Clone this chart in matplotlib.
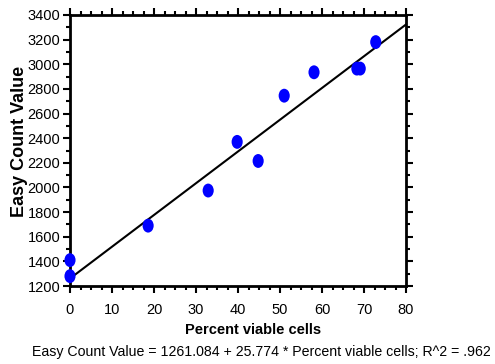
import matplotlib
matplotlib.use("Agg")
import matplotlib.pyplot as plt
import numpy as np
from matplotlib.path import Path
from matplotlib.ticker import MultipleLocator

plt.rcParams['font.family'] = ['Liberation Sans', 'DejaVu Sans']

# data
pct_viable = [0, 0, 18.6, 32.9, 39.8, 44.8, 51.0, 58.1, 68.3, 69.1, 72.8]
easy_count = [1410, 1280, 1690, 1975, 2370, 2215, 2745, 2935, 2965, 2965, 3180]
intercept = 1261.084
slope = 25.774
x_ticks = [0, 10, 20, 30, 40, 50, 60, 70, 80]
y_ticks = [1200, 1400, 1600, 1800, 2000, 2200, 2400, 2600, 2800, 3000, 3200, 3400]

fig = plt.figure(figsize=(4.95, 3.64), dpi=100)
ax = fig.add_axes([70/495, 1-286/364, 336/495, 271/364])

# ellipse marker (taller than wide)
circ = Path.unit_circle()
ell = Path(circ.vertices * np.array([0.8, 1.0]), circ.codes)

ax.scatter(pct_viable, easy_count, marker=ell, s=100, color='#0000ff',
           edgecolors='none', zorder=3, clip_on=False)

xl = np.array([0, 80])
ax.plot(xl, intercept + slope * xl, color='black', lw=1.5, zorder=2)

ax.set_xlim(0, 80)
ax.set_ylim(1200, 3400)
ax.set_xticks(x_ticks)
ax.set_yticks(y_ticks)
ax.xaxis.set_minor_locator(MultipleLocator(2.5))
ax.yaxis.set_minor_locator(MultipleLocator(100))

for s in ax.spines.values():
    s.set_linewidth(2)

ax.tick_params(which='both', direction='out', top=True, right=True,
               labeltop=False, labelright=False, width=1.5)
ax.tick_params(which='major', length=5)
ax.tick_params(which='minor', length=3)
ax.tick_params(axis='x', which='major', labelsize=10.5, pad=7)
ax.tick_params(axis='y', which='major', labelsize=10.5, pad=2)

ax.set_xlabel('Percent viable cells', fontsize=10.5, fontweight='bold')
ax.xaxis.set_label_coords((253-70)/336, -(330-286)/271)
ax.set_ylabel('Easy Count Value', fontsize=13, fontweight='bold')
ax.yaxis.set_label_coords((20-70)/336, (286-141.5)/271)
ax.yaxis.label.set_va('center')
ax.xaxis.label.set_va('center')

fig.text(261/495, 1-352/364, 'Easy Count Value = 1261.084 + 25.774 * Percent viable cells; R^2 = .962',
         ha='center', va='center', fontsize=10.2)

fig.savefig('out.png', dpi=100)
